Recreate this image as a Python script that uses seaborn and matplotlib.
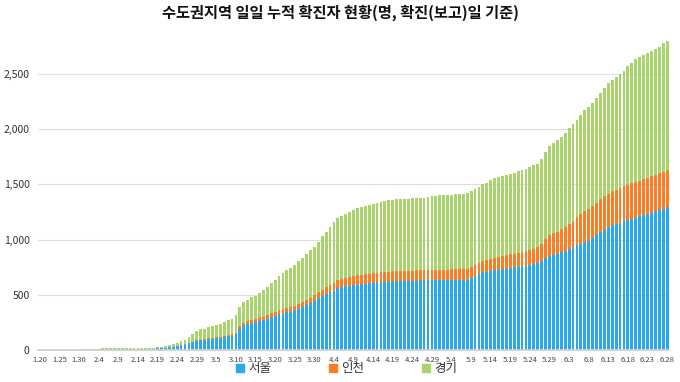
import matplotlib
matplotlib.use('Agg')
import numpy as np
import pandas as pd
import matplotlib.pyplot as plt
import seaborn as sns
from matplotlib.patches import Patch
from matplotlib.ticker import FuncFormatter

# Cumulative confirmed cases by report date, 2020-01-20 .. 2020-06-28
seoul = [
    0, 0, 0, 0, 1, 1, 1, 1, 1, 1, 3, 4,
    5, 6, 6, 6, 6, 7, 7, 7, 7, 7, 7, 7, 7, 7, 7, 9, 10, 10, 14,
    16, 21, 24, 27, 35, 42, 49, 62, 70, 82,
    87, 91, 96, 103, 107, 109, 120, 128, 130, 141, 193, 225, 234, 248, 253,
    265, 270, 282, 299, 310, 324, 330, 341, 347, 359, 372, 390, 410, 426, 445, 474,
    487, 510, 522, 537, 563, 567, 578, 582, 590, 593, 596, 601, 604,
    610, 612, 613, 616, 619, 622, 624, 626, 627, 627, 628, 629, 630, 630, 631, 632, 633,
    633, 634, 634, 635, 636, 637, 637, 637, 652, 669,
    684, 702, 709, 716, 722, 727, 733, 738, 745, 750, 755, 760, 764, 770, 776, 786,
    810, 835, 850, 860, 868,
    885, 899, 912, 930, 950, 962, 975, 990, 1010, 1040, 1065, 1090, 1110, 1128,
    1140, 1150, 1165, 1178, 1190, 1200, 1210, 1220, 1232, 1244, 1255, 1265, 1278, 1292,
]
incheon = [
    1, 1, 1, 1, 1, 1, 1, 1, 1, 1, 1, 1,
    1, 1, 1, 1, 1, 1, 1, 1, 1, 1, 1, 1, 1, 1, 1, 1, 1, 1, 1, 1,
    1, 1, 1, 2, 2, 3, 4, 6, 6,
    7, 7, 9, 9, 9, 9, 9, 10, 11, 15, 20, 24, 26, 28, 30,
    31, 32, 32, 33, 34, 35, 37, 39, 40, 42, 43, 45, 46, 48, 50, 55,
    58, 60, 64, 68, 72, 75, 77, 79, 80, 82, 84, 85, 86,
    87, 88, 89, 90, 90, 91, 91, 92, 92, 92, 92, 93, 93, 93, 93, 94, 94,
    94, 94, 95, 95, 95, 96, 96, 97, 98, 100,
    103, 105, 107, 110, 115, 117, 118, 119, 121, 124, 128, 131, 134, 137, 140, 143,
    152, 170, 190, 196, 203,
    210, 218, 228, 240, 252, 266, 280, 288, 292, 296, 300, 304, 307, 310,
    312, 314, 316, 318, 320, 322, 325, 327, 330, 332, 334, 336, 338, 340,
]
gyeonggi = [
    0, 0, 0, 0, 0, 0, 1, 2, 2, 2, 2, 3,
    4, 5, 5, 6, 7, 7, 7, 8, 8, 8, 8, 8, 8, 8, 8, 8, 8, 9, 10,
    12, 14, 18, 22, 27, 35, 43, 52, 68, 84,
    92, 96, 100, 105, 110, 116, 126, 135, 143, 160, 175, 186, 195, 200, 205,
    220, 240, 258, 272, 290, 311, 327, 345, 359, 369, 394, 401, 414, 432, 441, 453,
    491, 502, 531, 558, 564, 572, 574, 593, 599, 609, 619, 622, 624,
    626, 633, 641, 646, 647, 648, 649, 650, 651, 652, 654, 655, 656, 657, 665, 669, 671,
    674, 676, 677, 678, 679, 680, 681, 685, 688, 690,
    692, 694, 700, 714, 719, 722, 723, 725, 727, 731, 737, 739, 745, 751, 756, 759,
    765, 790, 810, 819, 829,
    835, 853, 870, 880, 883, 897, 915, 927, 933, 944, 961, 981, 1003, 1012,
    1025, 1037, 1050, 1074, 1093, 1112, 1122, 1125, 1126, 1134, 1135, 1147, 1162, 1163,
]

dates = pd.date_range('2020-01-20', '2020-06-28')
labels = [f'{d.month}.{d.day}' for d in dates]

blue = '#2aa8ee'
orange = '#fb7d24'
green = '#a9d36c'

df = pd.DataFrame({'date': labels, 'seoul': seoul, 'incheon': incheon, 'gyeonggi': gyeonggi})
df['seoul_incheon'] = df['seoul'] + df['incheon']
df['total'] = df['seoul_incheon'] + df['gyeonggi']

sns.set_theme(style='white')
plt.rcParams['font.family'] = ['Noto Sans CJK KR', 'DejaVu Sans']

fig = plt.figure(figsize=(6.8, 3.82), dpi=100)
ax = fig.add_axes([0.0559, 0.0838, 0.928, 0.8236])

# stack by drawing the running totals from back to front
for col, c in [('total', green), ('seoul_incheon', orange), ('seoul', blue)]:
    sns.barplot(data=df, x='date', y=col, order=labels, color=c, width=0.72,
                saturation=1, errorbar=None, linewidth=0, ax=ax)

ax.set_ylim(0, 2850)
ax.set_xlim(-0.5, len(labels) - 0.5)
ax.set_yticks(range(0, 2501, 500))
ax.yaxis.set_major_formatter(FuncFormatter(lambda v, p: f'{v:,.0f}'))
ax.set_xticks(range(0, len(labels), 5))
ax.set_xticklabels(labels[::5])
ax.set_xlabel('')
ax.set_ylabel('')
ax.yaxis.grid(True, color='#dedede', lw=0.8)
ax.set_axisbelow(True)
for s in ['top', 'right', 'left']:
    ax.spines[s].set_visible(False)
ax.spines['bottom'].set_color('#d0d0d0')
ax.tick_params(axis='y', length=0, labelsize=7.5, labelcolor='#333333', pad=6)
ax.tick_params(axis='x', length=0, labelsize=5.5, labelcolor='#444444', pad=4)

fig.text(0.5, 0.966, '수도권지역 일일 누적 확진자 현황(명, 확진(보고)일 기준)',
         ha='center', va='center', fontsize=11, fontweight='bold', color='#111111')

handles = [Patch(color=blue), Patch(color=orange), Patch(color=green)]
fig.legend(handles, ['서울', '인천', '경기'], loc='lower center', bbox_to_anchor=(0.51, -0.012),
           ncol=3, frameon=False, fontsize=9, handlelength=0.6, handleheight=0.6,
           handletextpad=0.4, columnspacing=4.6, labelcolor='#333333')

fig.savefig('out.png', dpi=100)
